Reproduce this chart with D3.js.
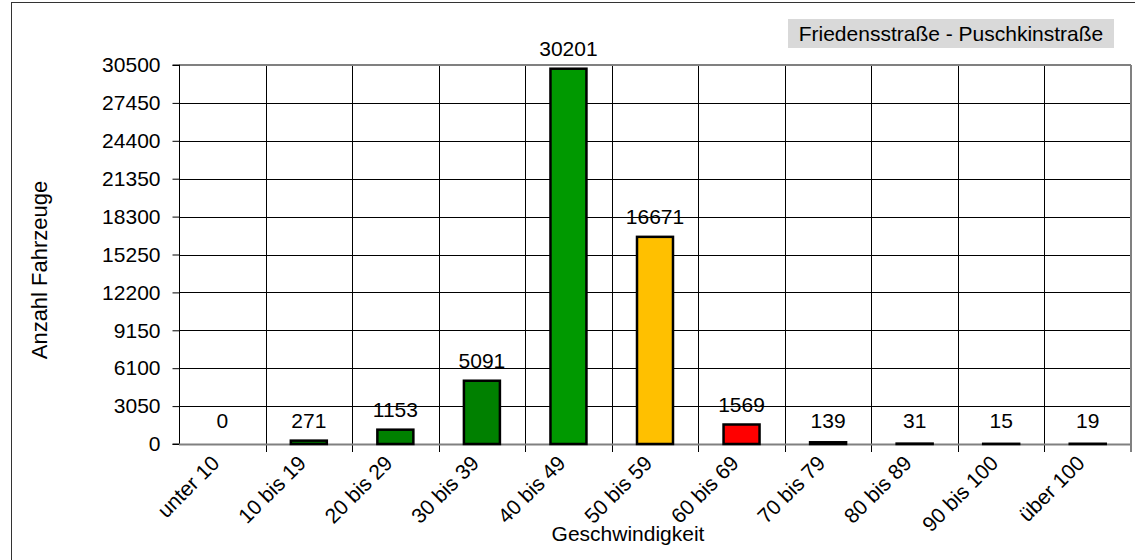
<!DOCTYPE html>
<html>
<head>
  <meta charset="utf-8">
  <title>Friedensstraße - Puschkinstraße</title>
  <script src="https://d3js.org/d3.v7.min.js"></script>
  <style>
    body { margin: 0; background: #fff; }
    text { font-family: "Liberation Sans", Arial, sans-serif; fill: #000; }
  </style>
</head>
<body>
<script>
// categories and counts
var categories = ["unter 10", "10 bis 19", "20 bis 29", "30 bis 39", "40 bis 49", "50 bis 59",
                  "60 bis 69", "70 bis 79", "80 bis 89", "90 bis 100", "über 100"];
var counts = [0, 271, 1153, 5091, 30201, 16671, 1569, 139, 31, 15, 19];
var barColors = ["#008000", "#008000", "#008000", "#008000", "#009900", "#ffc000",
                 "#ff0000", "#000000", "#000000", "#000000", "#000000"];
var yTicks = [0, 3050, 6100, 9150, 12200, 15250, 18300, 21350, 24400, 27450, 30500];

var W = 1135, H = 560;
var pLeft = 179, pRight = 1131, pTop = 65, pBottom = 444;
var fs = "21px";

var svg = d3.select("body").append("svg")
  .attr("width", W).attr("height", H);

// outer frame
svg.append("rect")
  .attr("x", 11.5).attr("y", 2.5).attr("width", W - 10).attr("height", H)
  .attr("fill", "none").attr("stroke", "#333").attr("stroke-width", 1);

var x = d3.scaleBand().domain(categories).range([pLeft, pRight]);
var y = d3.scaleLinear().domain([0, 30500]).range([pBottom, pTop]);

// horizontal grid
svg.append("g").selectAll("line").data(yTicks.slice(1, -1)).enter().append("line")
  .attr("x1", pLeft).attr("x2", pRight)
  .attr("y1", function(d) { return Math.round(y(d)) + 0.5; })
  .attr("y2", function(d) { return Math.round(y(d)) + 0.5; })
  .attr("stroke", "#000").attr("stroke-width", 1);

// vertical grid at category boundaries
svg.append("g").selectAll("line").data(categories.slice(1)).enter().append("line")
  .attr("x1", function(d) { return Math.round(x(d)) + 0.5; })
  .attr("x2", function(d) { return Math.round(x(d)) + 0.5; })
  .attr("y1", pTop).attr("y2", pBottom + 8)
  .attr("stroke", "#000").attr("stroke-width", 1);

// plot top and right border (grey)
svg.append("line").attr("x1", pLeft).attr("x2", pRight).attr("y1", pTop).attr("y2", pTop)
  .attr("stroke", "#808080").attr("stroke-width", 2);
svg.append("line").attr("x1", pRight).attr("x2", pRight).attr("y1", pTop).attr("y2", pBottom + 8)
  .attr("stroke", "#808080").attr("stroke-width", 2);

// y axis
var yAxis = svg.append("g")
  .attr("transform", "translate(" + (pLeft + 0.5) + ",0)")
  .call(d3.axisLeft(y).tickValues(yTicks).tickSize(7).tickPadding(12).tickFormat(d3.format("d")));
yAxis.selectAll("text").style("font-size", fs).style("font-family", "Liberation Sans, Arial, sans-serif");
yAxis.selectAll("line, path").attr("stroke", "#000");
yAxis.select(".domain").attr("d", "M-7," + pTop + "H0V" + pBottom + "H-7");

// x axis line
svg.append("line").attr("x1", pLeft).attr("x2", pRight)
  .attr("y1", pBottom + 0.5).attr("y2", pBottom + 0.5)
  .attr("stroke", "#808080").attr("stroke-width", 2);

// bars
var bw = 36;
svg.append("g").selectAll("rect").data(counts).enter().append("rect")
  .attr("x", function(d, i) { return x(categories[i]) + x.bandwidth() / 2 - bw / 2; })
  .attr("y", function(d) { return y(d); })
  .attr("width", bw)
  .attr("height", function(d) { return pBottom - y(d); })
  .attr("fill", function(d, i) { return barColors[i]; })
  .attr("stroke", "#000").attr("stroke-width", function(d) { return d > 0 ? 2.5 : 0; });

// value labels
svg.append("g").selectAll("text").data(counts).enter().append("text")
  .attr("x", function(d, i) { return x(categories[i]) + x.bandwidth() / 2; })
  .attr("y", function(d) { return Math.min(y(d) - 13, pBottom - 16); })
  .attr("text-anchor", "middle")
  .style("font-size", fs)
  .text(function(d) { return d; });

// x tick labels rotated
svg.append("g").selectAll("text").data(categories).enter().append("text")
  .attr("transform", function(d) {
    return "translate(" + (x(d) + x.bandwidth() / 2 - 12) + "," + (pBottom + 10) + ") rotate(-45)";
  })
  .attr("text-anchor", "end")
  .attr("dy", "0.7em")
  .style("font-size", fs)
  .text(function(d) { return d; });

// axis titles
svg.append("text").attr("x", 628).attr("y", 541).attr("text-anchor", "middle")
  .style("font-size", fs).text("Geschwindigkeit");
svg.append("text").attr("transform", "translate(47,270) rotate(-90)").attr("text-anchor", "middle")
  .style("font-size", "22px").text("Anzahl Fahrzeuge");

// title box
var tb = svg.append("g");
tb.append("rect").attr("x", 788).attr("y", 19).attr("width", 326).attr("height", 29).attr("fill", "#d9d9d9");
tb.append("text").attr("x", 951).attr("y", 41).attr("text-anchor", "middle")
  .style("font-size", fs).text("Friedensstraße - Puschkinstraße");
</script>
</body>
</html>
